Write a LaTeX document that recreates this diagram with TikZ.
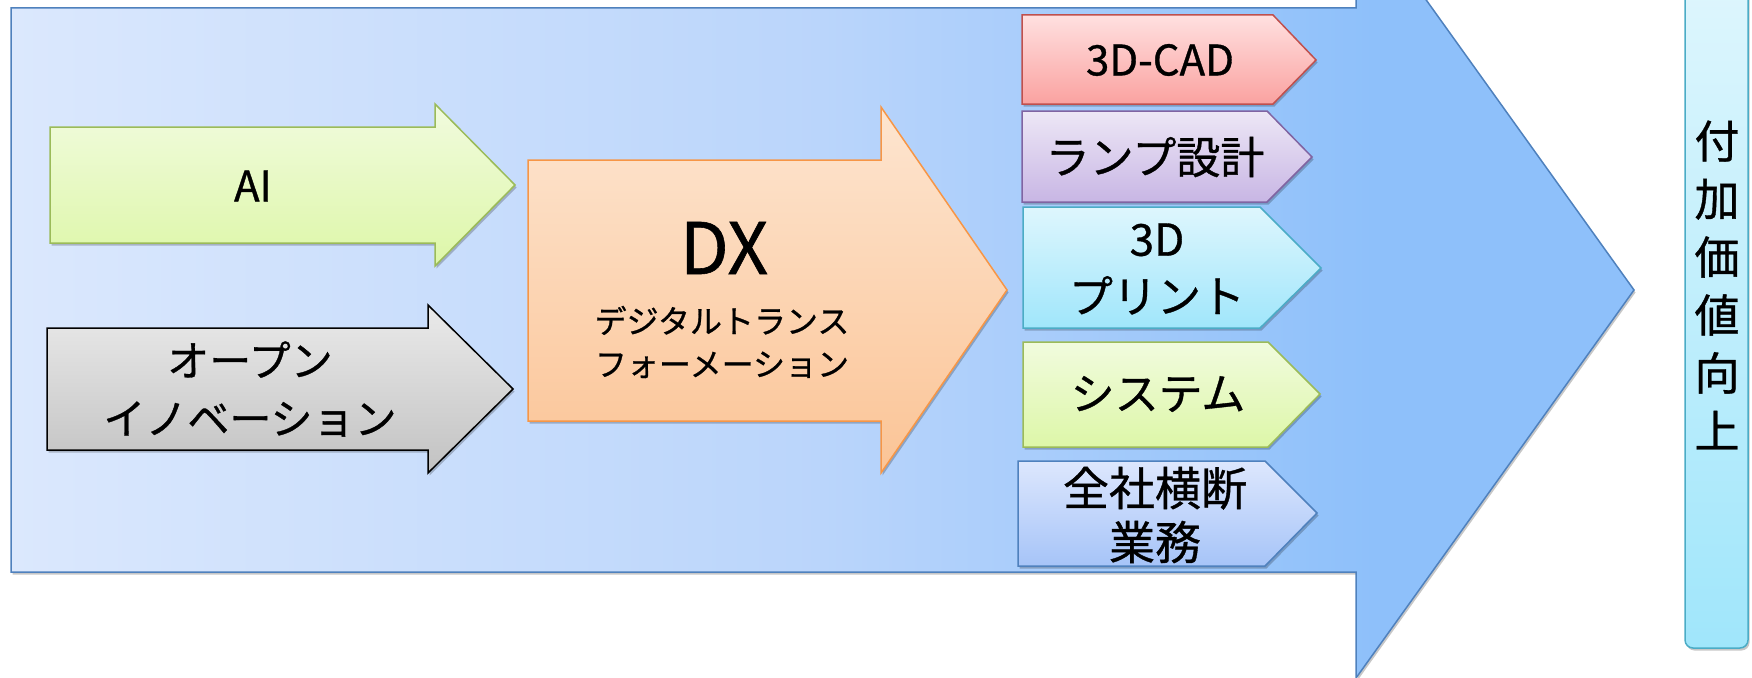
\documentclass[tikz,border=0pt]{standalone}
\usepackage{fontspec}
\setmainfont{Noto Sans CJK JP}[BoldFont={Noto Sans CJK JP}, BoldFeatures={FakeBold=0.8}]
\usetikzlibrary{shadows}
\definecolor{mA}{RGB}{219,232,253}
\definecolor{mB}{RGB}{186,213,251}
\definecolor{mC}{RGB}{142,192,250}
\definecolor{mLine}{RGB}{79,129,189}
\definecolor{gTop}{RGB}{241,251,222}
\definecolor{gBot}{RGB}{221,247,168}
\definecolor{gLine}{RGB}{155,187,89}
\definecolor{kTop}{RGB}{234,234,234}
\definecolor{kBot}{RGB}{194,194,194}
\definecolor{oTop}{RGB}{253,229,208}
\definecolor{oBot}{RGB}{251,196,150}
\definecolor{oLine}{RGB}{247,150,70}
\definecolor{rTop}{RGB}{255,224,224}
\definecolor{rBot}{RGB}{250,162,160}
\definecolor{rLine}{RGB}{192,80,77}
\definecolor{pTop}{RGB}{237,231,246}
\definecolor{pBot}{RGB}{200,182,228}
\definecolor{pLine}{RGB}{128,100,162}
\definecolor{cTop}{RGB}{222,246,253}
\definecolor{cBot}{RGB}{160,230,251}
\definecolor{cLine}{RGB}{75,172,198}
\definecolor{bTop}{RGB}{221,231,253}
\definecolor{bBot}{RGB}{166,196,248}
\pgfdeclarehorizontalshading{mainshade}{100bp}{color(0bp)=(mA); color(25bp)=(mA); color(50bp)=(mB); color(67bp)=(mC); color(100bp)=(mC)}
\tikzset{
  shp/.style={line width=1.5pt, line join=miter,
    drop shadow={shadow xshift=1.5pt, shadow yshift=-2.5pt, opacity=0.22, fill=black}},
  lbl/.style={inner sep=0pt, align=center, text=black},
  big/.style={lbl, font={\bfseries\fontsize{42}{58}\selectfont}},
  tag/.style={lbl, font={\bfseries\fontsize{44}{56}\selectfont}},
}
\begin{document}
\begin{tikzpicture}[x=1pt,y=-1pt]
\useasboundingbox (0,0) rectangle (1752,677);
\begin{scope}
\clip (0,0) rectangle (1752,677);
% main arrow
\path[shp, draw=mLine, shading=mainshade]
  (11,8) -- (1356,8) -- (1356,-98) -- (1634,290) -- (1356,678) -- (1356,572) -- (11,572) -- cycle;
% AI arrow
\path[shp, draw=gLine, top color=gTop, bottom color=gBot]
  (50,127) -- (435,127) -- (435,104) -- (515,185) -- (435,266) -- (435,243) -- (50,243) -- cycle;
\node[big] (ai) at (253,186) {AI};
% open innovation arrow
\path[shp, draw=black, top color=kTop, bottom color=kBot]
  (47,328) -- (428,328) -- (428,305) -- (513,389) -- (428,473) -- (428,450) -- (47,450) -- cycle;
\node[big] (open) at (250,389) {オープン\\イノベーション};
% DX arrow
\path[shp, draw=oLine, top color=oTop, bottom color=oBot]
  (528,160) -- (881,160) -- (881,107) -- (1007,290) -- (881,473) -- (881,421) -- (528,421) -- cycle;
\node[lbl, font={\bfseries\fontsize{71}{80}\selectfont}] (dx) at (724,248) {DX};
\node[lbl, font={\bfseries\fontsize{32}{43}\selectfont}] (dxsub) at (722,342) {デジタルトランス\\フォーメーション};
% tags
\path[shp, draw=rLine, top color=rTop, bottom color=rBot]
  (1022,15) -- (1273,15) -- (1316,60) -- (1273,104) -- (1022,104) -- cycle;
\node[lbl, font={\bfseries\fontsize{42}{56}\selectfont}] (cad) at (1160,60) {3D-CAD};
\path[shp, draw=pLine, top color=pTop, bottom color=pBot]
  (1022,111) -- (1267,111) -- (1312,157) -- (1267,202) -- (1022,202) -- cycle;
\node[tag] (lamp) at (1155,157) {ランプ設計};
\path[shp, draw=cLine, top color=cTop, bottom color=cBot]
  (1023,207) -- (1260,207) -- (1321,268) -- (1260,328) -- (1023,328) -- cycle;
\node[tag, font={\bfseries\fontsize{44}{57}\selectfont}] (print) at (1157,269) {3D\\プリント};
\path[shp, draw=gLine, top color=gTop, bottom color=gBot]
  (1023,342) -- (1268,342) -- (1320,394) -- (1268,447) -- (1023,447) -- cycle;
\node[tag] (sys) at (1158,394) {システム};
\path[shp, draw=mLine, top color=bTop, bottom color=bBot]
  (1018,461) -- (1265,461) -- (1317,513) -- (1265,566) -- (1018,566) -- cycle;
\node[tag, font={\bfseries\fontsize{46}{54}\selectfont}] (corp) at (1155,515) {全社横断\\業務};
% value bar
\path[shp, draw=cLine, top color=cTop, bottom color=cBot, rounded corners=8pt]
  (1685,-20) rectangle (1748,648);
\node[lbl, font={\bfseries\fontsize{45}{58}\selectfont}] (value) at (1717,285) {付\\加\\価\\値\\向\\上};
\end{scope}
\end{tikzpicture}
\end{document}
